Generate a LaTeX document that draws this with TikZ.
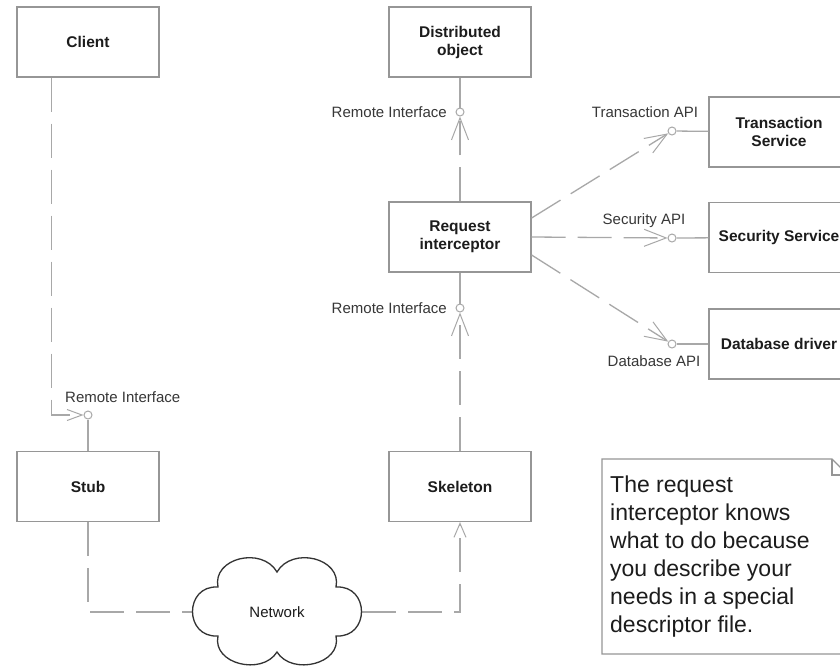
\documentclass[tikz,border=0pt]{standalone}
\usepackage{fontspec}
\setmainfont{Liberation Sans}
\usetikzlibrary{arrows.meta,calc}

\definecolor{edge}{RGB}{168,168,168}
\definecolor{frame}{RGB}{150,150,150}
\definecolor{ink}{RGB}{28,28,28}
\definecolor{soft}{RGB}{55,55,55}

\tikzset{
  box/.style={draw=frame, line width=1.2pt, fill=white, minimum width=142pt,
    minimum height=70pt, inner sep=0pt, align=center, text=ink,
    font=\fontsize{15.5}{18}\selectfont\bfseries},
  iface/.style={circle, draw=edge, fill=white, line width=1pt,
    minimum size=8pt, inner sep=0pt},
  lbl/.style={text=soft, inner sep=0pt, font=\fontsize{15}{17}\selectfont},
  wire/.style={draw=edge, line width=1.3pt},
  dep/.style={draw=edge, line width=1.3pt, dash pattern=on 34pt off 12pt},
  bigv/.style={-{Straight Barb[length=22pt,width=17pt,line width=1pt]}},
  smallv/.style={-{Straight Barb[length=15pt,width=11pt,line width=1pt]}},
  midv/.style={-{Straight Barb[length=14pt,width=12pt,line width=1pt]}},
  notetext/.style={anchor=north west, inner sep=0pt, align=left, text=ink,
    font=\fontsize{23}{28}\selectfont},
}

\begin{document}
\begin{tikzpicture}[x=1pt, y=-1pt]
  \useasboundingbox (0,0) rectangle (840,665);
  \clip (0,0) rectangle (840,665);
  \fill[white] (0,0) rectangle (840,665);

  % components
  \node[box] (client) at (88,42)    {Client};
  \node[box] (dobj)   at (460,42)   {Distributed\\object};
  \node[box] (ri)     at (460,237)  {Request\\interceptor};
  \node[box] (stub)   at (88,486.5) {Stub};
  \node[box] (skel)   at (460,486.5){Skeleton};
  \node[box, minimum width=140pt] (ts) at (779,132)   {Transaction\\Service};
  \node[box, minimum width=140pt] (ss) at (779,237.5) {Security Service};
  \node[box, minimum width=140pt] (db) at (779,344)   {Database driver};

  % provided interfaces (lollipops)
  \node[iface] (stubif) at (88,415)  {};
  \node[iface] (doif)   at (460,112) {};
  \node[iface] (riif)   at (460,308) {};
  \node[iface] (tapi)   at (672,131) {};
  \node[iface] (sapi)   at (672,238) {};
  \node[iface] (dapi)   at (672,344) {};

  \draw[wire] (stub) -- (stubif);
  \draw[wire] (dobj) -- (doif);
  \draw[wire] (ri) -- (riif);
  \draw[wire] (ts) -- (tapi);
  \draw[wire] (ss) -- (sapi);
  \draw[wire] (db) -- (dapi);

  % interface labels
  \node[lbl, anchor=west] (lstub) at (65,397)  {Remote Interface};
  \node[lbl, anchor=east] (ldo)   at (447,112) {Remote Interface};
  \node[lbl, anchor=east] (lri)   at (447,308) {Remote Interface};
  \node[lbl] (ltapi) at (645,112) {Transaction API};
  \node[lbl] (lsapi) at (644,220.5) {Security API};
  \node[lbl] (ldapi) at (654,361) {Database API};

  % dependencies
  \draw[dep, smallv] ($(client.south west)+(35,0)$) |- (stubif);
  \draw[dep, bigv] (ri) -- (doif);
  \draw[dep, bigv] (skel) -- (riif);
  \draw[dep, bigv] ($(ri.east)+(0,-19)$) -- (tapi);
  \draw[dep, bigv] (ri.east) -- (sapi);
  \draw[dep, bigv] ($(ri.east)+(0,18)$) -- (dapi);

  % network cloud
  \coordinate (netw) at (193,612);
  \coordinate (nete) at (362,612);
  \draw[dep] (stub) |- (netw);
  \draw[dep, midv] (nete) -| (skel);
  \draw[line width=1.3pt, draw=black!80, fill=white]
    (218,587) .. controls (212,558) and (262,546) .. (277,572)
    .. controls (292,546) and (342,558) .. (336,587)
    .. controls (370,585) and (370,638) .. (336,636)
    .. controls (342,664) and (292,676) .. (277,652)
    .. controls (262,676) and (212,664) .. (218,636)
    .. controls (184,638) and (184,585) .. (218,587) -- cycle;
  \node[lbl, text=ink] (net) at (277,612) {Network};

  % note with folded corner
  \coordinate (ntl) at (602,459);
  \coordinate (nfold) at (832,459);
  \coordinate (nfr) at (848,475);
  \coordinate (nbr) at (848,654);
  \coordinate (nbl) at (602,654);
  \draw[draw=frame, line width=1.2pt, fill=white]
    (ntl) -- (nfold) -- (nfr) -- (nbr) -- (nbl) -- cycle;
  \draw[draw=frame, line width=1.2pt] (nfold) -- (832,475) -- (nfr);
  \node[notetext] (note) at (610,476)
    {The request\\interceptor knows\\what to do because\\you describe your\\needs in a special\\descriptor file.};
\end{tikzpicture}
\end{document}
